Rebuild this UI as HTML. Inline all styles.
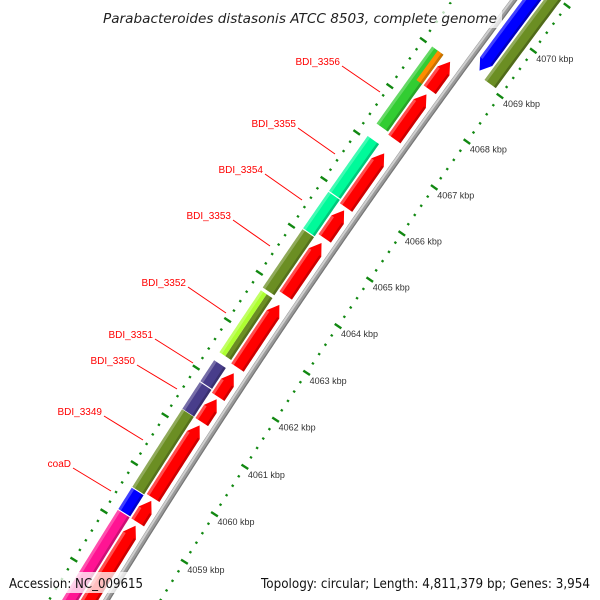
<!DOCTYPE html>
<html><head><meta charset="utf-8"><style>
html,body{margin:0;padding:0;background:#fff;width:600px;height:600px;overflow:hidden}
svg{display:block;overflow:hidden}
</style></head><body>
<svg id="map" width="600" height="600" viewBox="0 0 600 600" xmlns="http://www.w3.org/2000/svg">
<rect x="0" y="0" width="600" height="600" fill="#fff"/>
<g id="tracks"></g>
<g id="leaders"></g>
<rect x="100" y="4" width="402" height="24" fill="#fff" fill-opacity="0.72"/>
<text x="103" y="23" font-family="DejaVu Sans, sans-serif" font-style="italic" font-size="13" fill="#222" textLength="394" lengthAdjust="spacingAndGlyphs">Parabacteroides distasonis ATCC 8503, complete genome</text>
<rect x="5" y="572" width="144" height="21" fill="#fff" fill-opacity="0.75"/>
<text x="9" y="588" font-family="DejaVu Sans, sans-serif" font-size="13" fill="#111" textLength="134" lengthAdjust="spacingAndGlyphs">Accession: NC_009615</text>
<rect x="256" y="572" width="339" height="21" fill="#fff" fill-opacity="0.75"/>
<text x="261" y="588" font-family="DejaVu Sans, sans-serif" font-size="13" fill="#111" textLength="329" lengthAdjust="spacingAndGlyphs">Topology: circular; Length: 4,811,379 bp; Genes: 3,954</text>
</svg>
<script>
// ---- data (kbp) ----
const colorStarts = [4057.0, 4059.17, 4059.63, 4061.26, 4061.84, 4062.45, 4062.45, 4063.82, 4065.08, 4065.88, 4067.33, 4068.36];
const colorEnds   = [4059.15, 4059.61, 4061.25, 4061.82, 4062.28, 4063.76, 4063.76, 4065.06, 4065.86, 4067.06, 4069.0, 4069.0];
const colorFills  = ['#ff1493','#0000ff','#6b8e23','#483d8b','#483d8b','#6b8e23','#adff2f','#6b8e23','#00fa9a','#00fa9a','#32cd32','#ff8c00'];
const colorParts  = ['full','full','full','full','full','inner','outer','full','full','full','full','inner'];
const redStarts = [4056.5, 4059.15, 4059.66, 4061.25, 4061.78, 4062.40, 4063.93, 4065.15, 4065.81, 4067.29, 4068.36];
const redEnds   = [4059.08, 4059.60, 4061.18, 4061.73, 4062.28, 4063.73, 4065.05, 4065.75, 4066.98, 4068.26, 4068.97];
const revStarts = [4069.15, 4069.07];
const revEnds   = [4071.5, 4071.5];
const revFills  = ['#0000ff','#6b8e23'];
const revArrow  = [true, false];
const revLane   = [0, 1];
const tickLabels = [4059,4060,4061,4062,4063,4064,4065,4066,4067,4068,4069,4070];
const geneNames = ['coaD','BDI_3349','BDI_3350','BDI_3351','BDI_3352','BDI_3353','BDI_3354','BDI_3355','BDI_3356'];
const labelRightX = [71,102,135,153,186,231,263,296,340];
const labelY      = [467,415,364,338,286,219,173,127,65];
const leaderEndX  = [111,143,177,193,226,270,302,335,380];
const leaderEndY  = [491,440,389,363,313,246,200,154,92];

// ---- geometry ----
const CX = 6879, CY = 4758, R0 = 7947;
function ang(k){ return (-145.88 + 0.408*(k-4064)) * Math.PI/180; }
function pt(r,k){ const a=ang(k); return [CX + r*Math.cos(a), CY + r*Math.sin(a)]; }
function f(p){ return p[0].toFixed(2)+','+p[1].toFixed(2); }
function band(r1,r2,k1,k2){
  const pts=[]; const n=Math.max(2,Math.ceil((k2-k1)/0.05));
  for(let i=0;i<=n;i++) pts.push(f(pt(r2,k1+(k2-k1)*i/n)));
  for(let i=n;i>=0;i--) pts.push(f(pt(r1,k1+(k2-k1)*i/n)));
  return pts.join(' ');
}
function arrowFwd(r1,r2,k1,k2,head){
  const kb=Math.max(k1,k2-head); const pts=[]; const n=Math.max(2,Math.ceil((kb-k1)/0.05));
  for(let i=0;i<=n;i++) pts.push(f(pt(r2,k1+(kb-k1)*i/n)));
  pts.push(f(pt((r1+r2)/2,k2)));
  for(let i=n;i>=0;i--) pts.push(f(pt(r1,k1+(kb-k1)*i/n)));
  return pts.join(' ');
}
function arrowRev(r1,r2,k1,k2,head){
  const kb=Math.min(k2,k1+head); const pts=[]; const n=Math.max(2,Math.ceil((k2-kb)/0.05));
  pts.push(f(pt((r1+r2)/2,k1)));
  for(let i=0;i<=n;i++) pts.push(f(pt(r2,kb+(k2-kb)*i/n)));
  for(let i=n;i>=0;i--) pts.push(f(pt(r1,kb+(k2-kb)*i/n)));
  return pts.join(' ');
}
const NS='http://www.w3.org/2000/svg';
const tracks=document.getElementById('tracks');
function poly(parent,points,fill,op){
  const p=document.createElementNS(NS,'polygon');
  p.setAttribute('points',points); p.setAttribute('fill',fill);
  if(op!==undefined) p.setAttribute('fill-opacity',op);
  parent.appendChild(p); return p;
}
function grp(name){
  const g=document.createElementNS(NS,'g');
  
  
  tracks.appendChild(g); return g;
}

// rulers
function ruler(r,name,labels){
  const g=grp(name);
  for(let i=0;i<=75;i++){
    const k=4057+i*0.2; const major=(i%5===0);
    const dl=major?4:1.2; const w=major?2.4:2.2;
    const a=pt(r-dl,k), b=pt(r+dl,k);
    const l=document.createElementNS(NS,'line');
    l.setAttribute('x1',a[0]);l.setAttribute('y1',a[1]);l.setAttribute('x2',b[0]);l.setAttribute('y2',b[1]);
    l.setAttribute('stroke','#118811');l.setAttribute('stroke-width',w);
    
    
    g.appendChild(l);
  }
  if(labels){
    tickLabels.forEach(k=>{
      const p=pt(r,k);
      const t=document.createElementNS(NS,'text');
      t.setAttribute('x',p[0]+3); t.setAttribute('y',p[1]+11);
      t.setAttribute('font-family','Liberation Sans, sans-serif'); t.setAttribute('font-size','9');
      t.setAttribute('fill','#333'); t.textContent=k+' kbp';
      
      
      g.appendChild(t);
    });
  }
}
ruler(R0+49,'outer-ruler',false);
ruler(R0-46,'inner-ruler',true);

// backbone
const bb=grp('backbone');
poly(bb,band(R0-3,R0+3,4056.5,4071.8),'#9a9a9a');
poly(bb,band(R0+0.5,R0+2.5,4056.5,4071.8),'#cfcfcf');
poly(bb,band(R0-3,R0-1.8,4056.5,4071.8),'#777');

// colored gene track (forward)
const cg=grp('gene-track');
colorStarts.forEach((s,i)=>{
  const e=colorEnds[i]; let r1=R0+24, r2=R0+38;
  if(colorParts[i]==='inner') r2=R0+31;
  if(colorParts[i]==='outer') r1=R0+31;
  const p=poly(cg,band(r1,r2,s,e),colorFills[i]);
  
  
  if(colorParts[i]!=='inner') poly(cg,band(r2-3,r2,s,e),'#fff',0.25);
  if(colorParts[i]!=='outer') poly(cg,band(r1,r1+2.5,s,e),'#000',0.2);
});

// red ORF track (forward arrows)
const rg=grp('orf-track');
redStarts.forEach((s,i)=>{
  const e=redEnds[i];
  const p=poly(rg,arrowFwd(R0+7,R0+22,s,e,0.2),'#ff0000');
  
  
  poly(rg,band(R0+19,R0+22,s,Math.max(s,e-0.2)),'#fff',0.3);
  poly(rg,band(R0+7,R0+9.5,s,Math.max(s,e-0.2)),'#000',0.2);
});

// reverse track
const vg=grp('reverse-track');
revStarts.forEach((s,i)=>{
  const e=revEnds[i];
  const r2=R0-7-revLane[i]*17, r1=R0-22-revLane[i]*16;
  const pts=revArrow[i]?arrowRev(r1,r2,s,e,0.2):band(r1,r2,s,e);
  const p=poly(vg,pts,revFills[i]);
  
  
  const ks=revArrow[i]?s+0.2:s;
  poly(vg,band(r2-3,r2,ks,e),'#fff',0.25);
  poly(vg,band(r1,r1+2.5,ks,e),'#000',0.25);
});

// gene labels with leader lines
const lg=document.getElementById('leaders');
geneNames.forEach((n,i)=>{
  const l=document.createElementNS(NS,'line');
  l.setAttribute('x1',labelRightX[i]+2);l.setAttribute('y1',labelY[i]+1);
  l.setAttribute('x2',leaderEndX[i]);l.setAttribute('y2',leaderEndY[i]);
  l.setAttribute('stroke','#ff0000');l.setAttribute('stroke-width','1');
  
  
  lg.appendChild(l);
  const t=document.createElementNS(NS,'text');
  t.setAttribute('x',labelRightX[i]); t.setAttribute('y',labelY[i]);
  t.setAttribute('text-anchor','end');
  t.setAttribute('font-family','Liberation Sans, sans-serif'); t.setAttribute('font-size','10');
  t.setAttribute('fill','#ff0000'); t.textContent=n;
  
  
  lg.appendChild(t);
});
</script>
</body></html>
